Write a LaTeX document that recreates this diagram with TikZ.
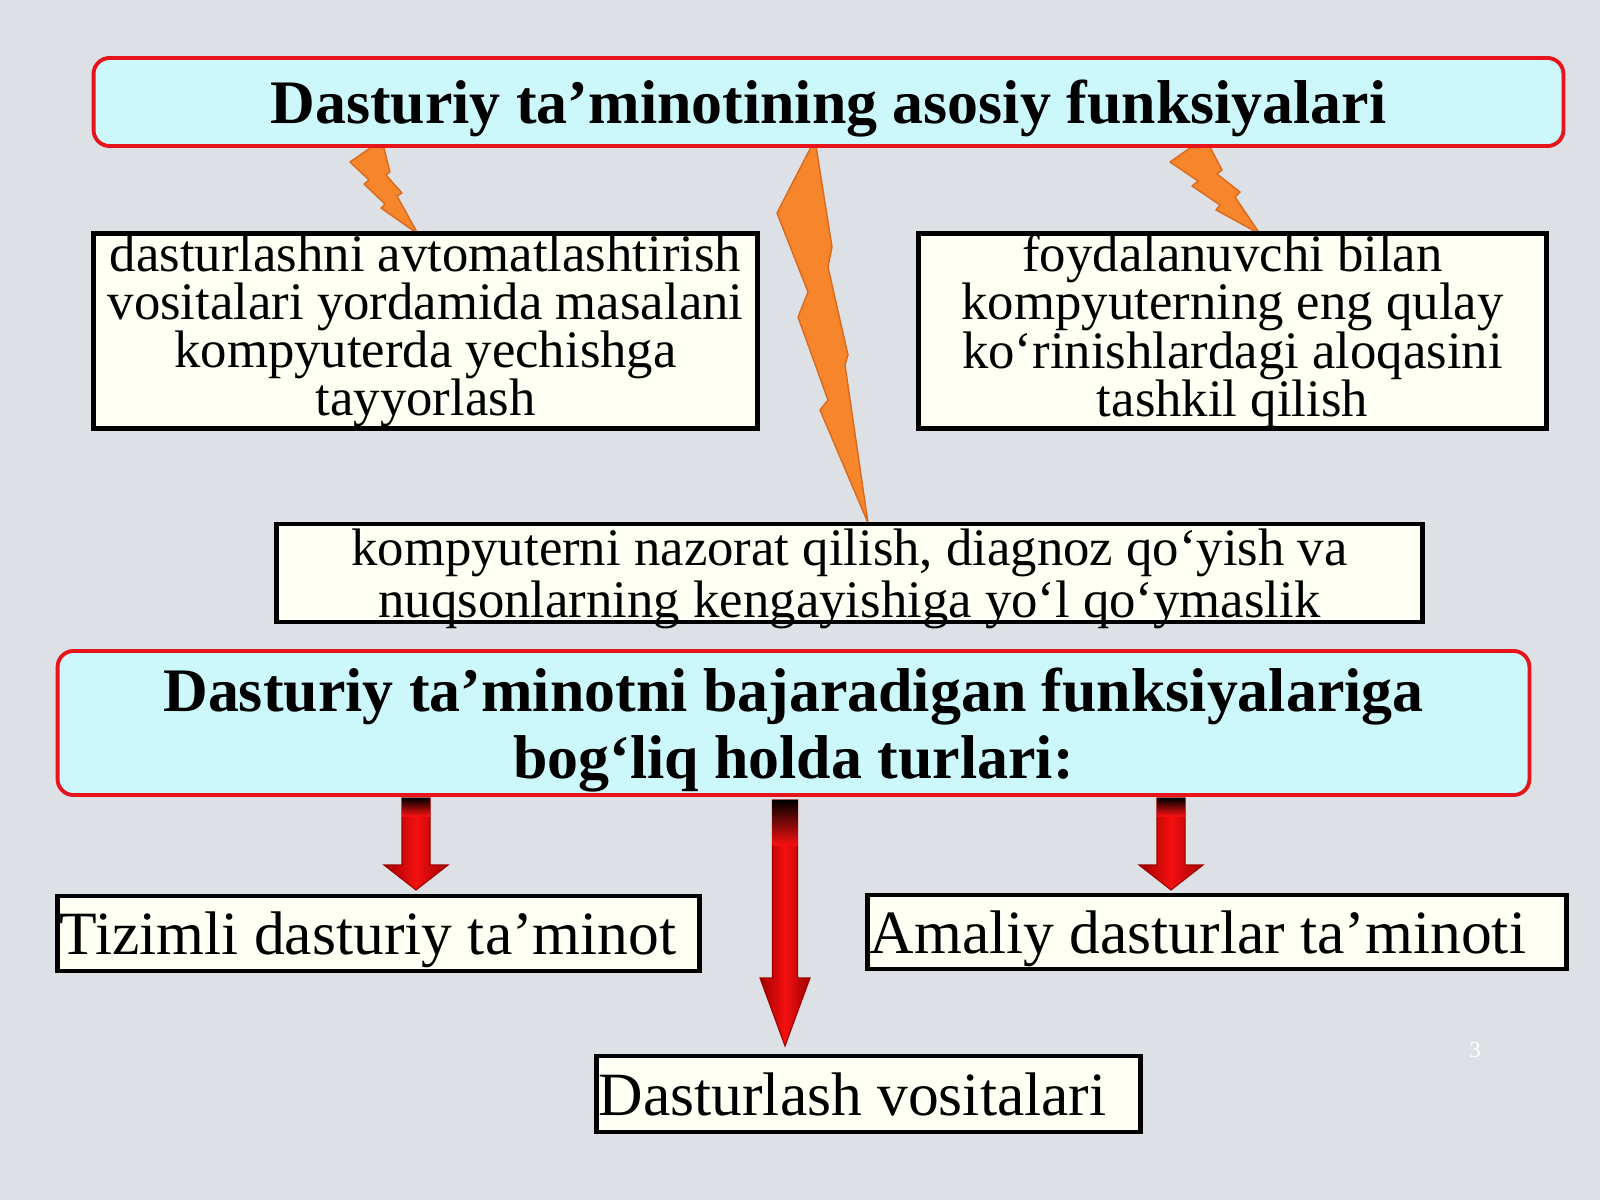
\documentclass[tikz,border=0pt]{standalone}
\usepackage{fontspec}
\setmainfont{Liberation Serif}
\usepackage{xcolor}
\usetikzlibrary{calc}

\definecolor{slidebg}{HTML}{DDE0E4}
\definecolor{titlefill}{HTML}{CCF8FC}
\definecolor{titleline}{HTML}{E8141C}
\definecolor{boxfill}{HTML}{FFFFF4}
\definecolor{boltfill}{HTML}{F6852C}
\definecolor{boltline}{HTML}{D96A20}
\definecolor{arrowred}{HTML}{F41010}
\definecolor{arrowdark}{HTML}{A00000}

% start, end, shaft half width, head half width, head length, dark top length
\newcommand{\typearrow}[6]{%
\shade[redarrow] ($(#1)+(-#3,0)$) -- ($(#2)+(-#3,-#5)$) -- ($(#2)+(-#4,-#5)$) -- (#2)
  -- ($(#2)+(#4,-#5)$) -- ($(#2)+(#3,-#5)$) -- ($(#1)+(#3,0)$) -- cycle;
\shade[top color=black,bottom color=arrowred] ($(#1)+(-#3,0)$) rectangle ($(#1)+(#3,#6)$);}

\begin{document}
\begin{tikzpicture}[x=0.01cm,y=-0.01cm]
\tikzset{titlebox/.style={draw=titleline,fill=titlefill,line width=1.1pt,rounded corners=0.16cm,align=center,inner sep=0pt,text depth=0pt,font=\fontsize{17.6}{18.9}\selectfont\bfseries}}
\tikzset{funcbox/.style={draw=black,fill=boxfill,line width=1.4pt,align=center,inner sep=0pt,font=\fontsize{15}{13.7}\selectfont}}
\tikzset{typebox/.style={draw=black,fill=boxfill,line width=1.4pt,align=flush left,inner xsep=0.02cm,inner ysep=0pt,text depth=0pt,font=\fontsize{17.5}{20}\selectfont}}
\tikzset{bolt/.style={fill=boltfill,draw=boltline,line width=0.4pt,line join=round}}
\tikzset{redarrow/.style={left color=arrowdark,right color=arrowdark,middle color=arrowred,draw=arrowdark,line width=0.3pt}}

\fill[slidebg] (0,0) rectangle (1600,1200);

\filldraw[bolt] (373,146) -- (384,148) -- (390,172) -- (386,175) -- (402,193) -- (397,196) -- (418,234)
  -- (381,208) -- (385,204) -- (364,184) -- (369,180) -- (350,162) -- cycle;
\filldraw[bolt] (812,145) -- (816,146) -- (832,247) -- (828,267) -- (848,355) -- (845,365) -- (868,523)
  -- (820,410) -- (828,400) -- (798,317) -- (808,292) -- (777,213) -- cycle;
\filldraw[bolt] (1170,162) -- (1190,148) -- (1210,147) -- (1222,170) -- (1217,174) -- (1240,192) -- (1235,197)
  -- (1260,234) -- (1216,210) -- (1220,205) -- (1192,186) -- (1198,181) -- cycle;

\node[titlebox,minimum width=14.69cm,minimum height=0.88cm] (main) at (828.5,102) {Dasturiy ta’minotining asosiy funksiyalari};

\node[funcbox,minimum width=6.63cm,minimum height=1.94cm] (prep) at (425.5,331) {dasturlashni avtomatlashtirish\\vositalari yordamida masalani\\kompyuterda yechishga\\tayyorlash};
\node[funcbox,minimum width=6.27cm,minimum height=1.94cm] (link) at (1232.5,331) {foydalanuvchi bilan\\kompyuterning eng qulay\\ko‘rinishlardagi aloqasini\\tashkil qilish};
\node[funcbox,minimum width=11.45cm,minimum height=0.98cm,text depth=0pt,font=\fontsize{15}{13.2}\selectfont] (ctrl) at (849.5,573) {kompyuterni nazorat qilish, diagnoz qo‘yish va\\nuqsonlarning kengayishiga yo‘l qo‘ymaslik};

\node[titlebox,minimum width=14.71cm,minimum height=1.44cm] (kinds) at (793.5,723) {Dasturiy ta’minotni bajaradigan funksiyalariga\\bog‘liq holda turlari:};

\coordinate (sysin) at (416,798);
\coordinate (systip) at (416,890);
\coordinate (progin) at (785,800);
\coordinate (progtip) at (785,1046);
\coordinate (appin) at (1171,798);
\coordinate (apptip) at (1171,890);

\typearrow{sysin}{systip}{14}{32}{25}{18}
\typearrow{progin}{progtip}{12.5}{25}{68}{45}
\typearrow{appin}{apptip}{14}{32}{25}{18}

\node[typebox,text width=6.37cm,minimum height=0.75cm] (sys) at (378.5,933.5) {Tizimli dasturiy ta’minot};
\node[typebox,text width=6.94cm,minimum height=0.74cm] (app) at (1217,932) {Amaliy dasturlar ta’minoti};
\node[typebox,text width=5.39cm,minimum height=0.76cm] (prog) at (868.5,1094) {Dasturlash vositalari};

\node[text=white,font=\fontsize{6.5}{7}\selectfont] (pagenum) at (1475,1050) {3};

\end{tikzpicture}
\end{document}
